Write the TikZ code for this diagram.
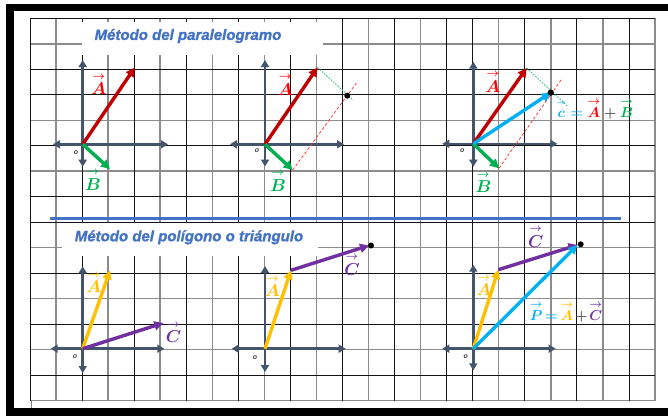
\documentclass[tikz,border=0pt]{standalone}
\usepackage{fontspec}
\usepackage{amsmath}
\setsansfont{Liberation Sans}
\newfontfamily\titlefont[BoldItalicFeatures={FakeBold=1.2}]{Liberation Sans}
\usetikzlibrary{arrows.meta}
\definecolor{axisc}{HTML}{44546A}
\definecolor{titleblue}{HTML}{4472C4}
\definecolor{lred}{HTML}{FF0000}
\definecolor{ared}{HTML}{C00000}
\definecolor{cgreen}{HTML}{00B050}
\definecolor{ccyan}{HTML}{00B0F0}
\definecolor{cyellow}{HTML}{FFC000}
\definecolor{cpurple}{HTML}{7030A0}
\definecolor{opgray}{HTML}{404040}
\newcommand{\varr}[1]{\overset{\scriptstyle\rightarrow}{#1}}
\newcommand{\varrs}[1]{\overset{\scriptscriptstyle\rightarrow}{\vphantom{A}#1}}
\newcommand{\vlab}[2]{\textcolor{#1}{$\varr{#2}$}}
\newcommand{\tightsp}{\thickmuskip=3mu\relax\medmuskip=2mu\relax}
\begin{document}
\begin{tikzpicture}[x=1pt,y=-1pt,
  gridk/.style={draw=black!92, line width=0.8pt},
  gridg/.style={draw=black!45, line width=1.5pt},
  axis/.style={draw=axisc, line width=2.6pt, {Triangle[length=7pt,width=8pt]}-{Triangle[length=7pt,width=8pt]}},
  vec/.style={line width=3.4pt, -{Triangle[length=9pt,width=9pt]}},
  vlabel/.style={font=\fontsize{16}{16}\selectfont\boldmath, inner sep=0pt},
  eqlabel/.style={font=\fontsize{15}{15}\selectfont\boldmath, inner sep=0pt},
  olabel/.style={font=\sffamily\bfseries\itshape\fontsize{7}{7}\selectfont, text=black!75, inner sep=0pt},
  titletext/.style={font=\titlefont\bfseries\itshape\fontsize{15}{15}\selectfont, text=titleblue, inner sep=0pt},
  bigdot/.style={circle, fill=black, inner sep=0pt, minimum size=6pt},
  rdash/.style={draw=lred!80, line width=0.7pt, dash pattern=on 3pt off 2pt},
  gdash/.style={draw=cgreen!80, line width=0.9pt, dash pattern=on 1.5pt off 1.5pt},
  ]
\useasboundingbox (0,0) rectangle (668,416);
\fill[white] (0,0) rectangle (668,416);
% grid
\foreach \i in {1,3,5,7,9,11,13,15,18,20,22,24}
  \draw[gridg] ({30+26.04*\i},18.3) -- ({30+26.04*\i},400.7);
\foreach \j in {1,4,6,9,11,13,15}
  \draw[gridg] (30,{18.3+25.49*\j}) -- (655,{18.3+25.49*\j});
\foreach \i in {0,2,4,6,8,10,12,14,16,17,19,21,23}
  \draw[gridk] ({30+26.04*\i},18.3) -- ({30+26.04*\i},400.7);
\foreach \j in {0,2,3,5,7,8,10,12,14}
  \draw[gridk] (30,{18.3+25.49*\j}) -- (655,{18.3+25.49*\j});
\draw[black!50, line width=0.6pt] (31.7,400.7) -- (31.7,408);
% frame
\fill[black] (6,3.5) rectangle (668,11);
\fill[black] (6,3.5) rectangle (13.5,416);
\fill[black] (6,408) rectangle (668,416);
% titles
\fill[white] (81.5,21.5) rectangle (323.3,55);
\node[titletext] (t1) at (188,36) {Método del paralelogramo};
\draw[titleblue, line width=3pt] (50,218.7) -- (620.7,218.7);
\fill[white] (61.7,223) rectangle (318.3,256);
\node[titletext] (t2) at (189,237.3) {Método del polígono o triángulo};

% ---------- diagram 1
\coordinate (o1) at (82.7,144.3);
\coordinate (v1t) at (82.7,60); \coordinate (v1b) at (82.7,166.7);
\coordinate (h1l) at (53,144.3); \coordinate (h1r) at (168,144.3);
\coordinate (a1) at (134.8,67.5); \coordinate (b1) at (110,169);
\draw[axis] (v1b) -- (v1t);
\draw[axis] (h1l) -- (h1r);
\draw[vec, ared] (o1) -- (a1);
\draw[vec, cgreen] (o1) -- (b1);
\node[vlabel] (la1) at (99,84) {\vlab{lred}{A}};
\node[vlabel] (lb1) at (93,179.5) {\vlab{cgreen}{B}};
\node[olabel] (lo1) at (76,153) {o};

% ---------- diagram 2
\coordinate (o2) at (265,144.3);
\coordinate (v2t) at (265,60); \coordinate (v2b) at (265,166.5);
\coordinate (h2l) at (230,144.3); \coordinate (h2r) at (344,144.3);
\coordinate (a2) at (317.5,67.5); \coordinate (b2) at (292.7,170);
\coordinate (r2) at (357.3,81.7); \coordinate (g2) at (353.3,100);
\draw[axis] (v2b) -- (v2t);
\draw[axis] (h2l) -- (h2r);
\draw[rdash] (b2) -- (r2);
\draw[gdash] (a2) -- (g2);
\draw[vec, ared] (o2) -- (a2);
\draw[vec, cgreen] (o2) -- (b2);
\node[bigdot] (d2) at (347.3,95.7) {};
\node[vlabel] (la2) at (285.5,84.5) {\vlab{lred}{A}};
\node[vlabel] (lb2) at (278,180.5) {\vlab{cgreen}{B}};
\node[olabel] (lo2) at (257,150.7) {o};

% ---------- diagram 3
\coordinate (o3) at (473.3,143.8);
\coordinate (v3t) at (473.3,61.7); \coordinate (v3b) at (473.3,166.7);
\coordinate (h3l) at (442.3,143.8); \coordinate (h3r) at (557.3,143.8);
\coordinate (a3) at (526.7,68); \coordinate (b3) at (499,168.3);
\coordinate (r3) at (561.7,79); \coordinate (g3) at (567.3,106);
\draw[axis] (v3b) -- (v3t);
\draw[axis] (h3l) -- (h3r);
\draw[rdash] (b3) -- (r3);
\draw[gdash] (a3) -- (g3);
\draw[vec, ared] (o3) -- (a3);
\draw[vec, cgreen] (o3) -- (b3);
\node[bigdot] (d3) at (550.7,92.7) {};
\draw[vec, ccyan] (o3) -- (d3.center);
\node[bigdot] at (d3) {};
\node[vlabel] (la3) at (493,81.5) {\vlab{lred}{A}};
\node[vlabel] (lb3) at (483.5,182) {\vlab{cgreen}{B}};
\node[eqlabel] (eq3) at (595,109) {$\textcolor{ccyan}{\varrs{c}}\mathrel{\textcolor{ccyan}{=}}\textcolor{lred}{\varr{A}}\mathbin{\textcolor{opgray}{+}}\textcolor{cgreen}{\varr{B}}$};
\node[olabel] (lo3) at (462.3,150.7) {o};

% ---------- diagram 4
\coordinate (o4) at (82.7,348.7);
\coordinate (v4t) at (82.7,266.3); \coordinate (v4b) at (82.7,373);
\coordinate (h4l) at (50.7,348.7); \coordinate (h4r) at (164.3,348.7);
\coordinate (a4) at (110,270.3); \coordinate (c4) at (163.3,323);
\draw[axis] (v4b) -- (v4t);
\draw[axis] (h4l) -- (h4r);
\draw[vec, cyellow] (o4) -- (a4);
\draw[vec, cpurple] (o4) -- (c4);
\node[vlabel] (la4) at (94,282) {\vlab{cyellow}{A}};
\node[vlabel] (lc4) at (173.5,332) {\vlab{cpurple}{C}};
\node[olabel] (lo4) at (75,357) {o};

% ---------- diagram 5
\coordinate (o5) at (265,348.7);
\coordinate (v5t) at (265,266); \coordinate (v5b) at (265,372);
\coordinate (h5l) at (231.7,348.7); \coordinate (h5r) at (345.7,348.7);
\coordinate (a5) at (291,270.3); \coordinate (c5) at (369,245.5);
\draw[axis] (v5b) -- (v5t);
\draw[axis] (h5l) -- (h5r);
\draw[vec, cyellow] (o5) -- (a5);
\draw[vec, cpurple] (a5) -- (c5);
\node[bigdot] (d5) at (371,245.5) {};
\node[vlabel] (la5) at (272.5,286) {\vlab{cyellow}{A}};
\node[vlabel] (lc5) at (352,264.5) {\vlab{cpurple}{C}};
\node[olabel] (lo5) at (255,357.3) {o};

% ---------- diagram 6
\coordinate (o6) at (473.3,348.7);
\coordinate (v6t) at (473.3,264.7); \coordinate (v6b) at (473.3,370.3);
\coordinate (h6l) at (442.3,348.7); \coordinate (h6r) at (555.7,348.7);
\coordinate (a6) at (498.3,269.7); \coordinate (c6) at (577.5,245);
\draw[axis] (v6b) -- (v6t);
\draw[axis] (h6l) -- (h6r);
\node[bigdot] (d6) at (580.7,244.3) {};
\draw[vec, cyellow] (o6) -- (a6);
\draw[vec, cpurple] (a6) -- (c6);
\draw[vec, ccyan] (o6) -- (c6);
\node[vlabel] (lc6) at (535.7,236.5) {\vlab{cpurple}{C}};
\node[vlabel] (la6) at (484,285) {\vlab{cyellow}{A}};
\node[eqlabel] (eq6) at (566,312) {$\tightsp\textcolor{ccyan}{\varr{P}}\mathrel{\textcolor{ccyan}{=}}\textcolor{cyellow}{\varr{A}}\mathbin{\textcolor{opgray}{+}}\textcolor{cpurple}{\varr{C}}$};
\node[olabel] (lo6) at (465.7,357) {o};
\end{tikzpicture}
\end{document}
